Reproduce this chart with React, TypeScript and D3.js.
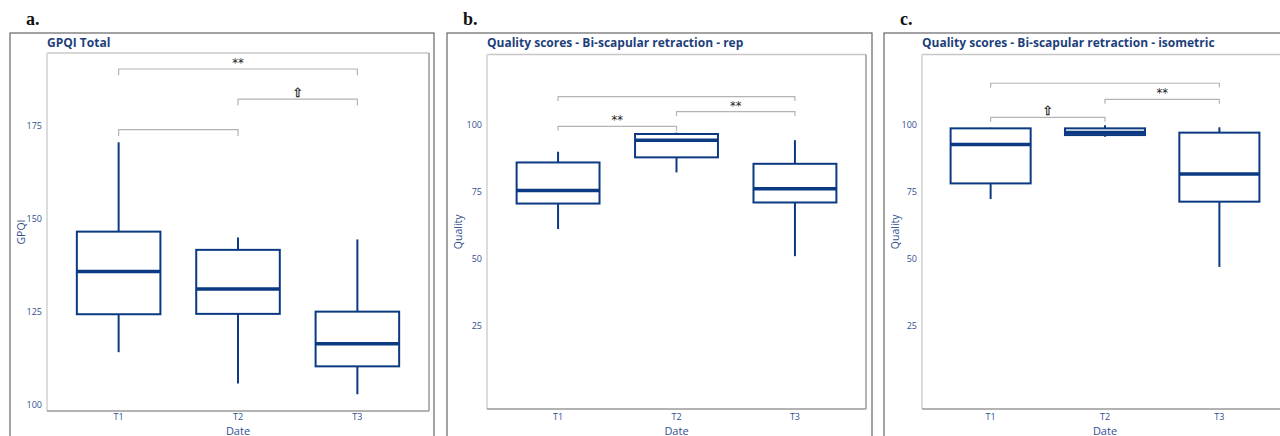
import * as d3 from "d3";

// Time points on the x axis
const dates = ["T1", "T2", "T3"];

// Box summaries per time point: [min, q1, median, q3, max]
const gpqiStats = [
  [114.2, 124.4, 135.9, 146.6, 170.6],
  [105.8, 124.5, 131.2, 141.7, 145.0],
  [102.9, 110.4, 116.5, 125.1, 144.5],
];
const repStats = [
  [61.2, 70.7, 75.6, 86.0, 90.0],
  [82.3, 87.9, 94.3, 96.6, 97.1],
  [51.1, 71.1, 76.2, 85.5, 94.3],
];
const isoStats = [
  [72.4, 78.2, 92.7, 98.7, 98.9],
  [95.6, 96.2, 97.2, 98.7, 99.9],
  [47.1, 71.4, 81.7, 97.1, 99.1],
];

// Significance brackets: [from, to, height, label]
const gpqiBrackets = [
  ["T1", "T3", 190.3, "**"],
  ["T2", "T3", 182.2, "⇧"],
  ["T1", "T2", 174.0, ""],
];
const repBrackets = [
  ["T1", "T3", 110.5, ""],
  ["T2", "T3", 104.9, "**"],
  ["T1", "T2", 99.4, "**"],
];
const isoBrackets = [
  ["T1", "T3", 115.5, ""],
  ["T2", "T3", 109.5, "**"],
  ["T1", "T2", 102.8, "⇧"],
];

const gpqiTicks = [100, 125, 150, 175];
const qualityTicks = [25, 50, 75, 100];

const navy = "#0b3a82";
const axisBlue = "#2f4f8f";
const font = "'Open Sans', 'Noto Sans', sans-serif";

const panels = [
  {
    letter: "a.", title: "GPQI Total", yTitle: "GPQI",
    frame: [10, 434], plot: { left: 47, top: 53, right: 429, bottom: 411 },
    domain: [98.4, 194.6], ticks: gpqiTicks, stats: gpqiStats, brackets: gpqiBrackets, tick: 1.7,
  },
  {
    letter: "b.", title: "Quality scores - Bi-scapular retraction - rep", yTitle: "Quality",
    frame: [447, 872], plot: { left: 487, top: 54.5, right: 866, bottom: 409 },
    domain: [-5.8, 126.2], ticks: qualityTicks, stats: repStats, brackets: repBrackets, tick: 1.6,
  },
  {
    letter: "c.", title: "Quality scores - Bi-scapular retraction - isometric", yTitle: "Quality",
    frame: [884, 1320], plot: { left: 922, top: 54.5, right: 1288, bottom: 409 },
    domain: [-5.8, 126.2], ticks: qualityTicks, stats: isoStats, brackets: isoBrackets, tick: 1.6,
  },
];

const Panel = ({ p }) => {
  const { left, top, right, bottom } = p.plot;
  const y = d3.scaleLinear().domain(p.domain).range([bottom, top]);
  const x = d3.scalePoint().domain(dates).range([left, right]).padding(0.6);
  const step = x.step();
  const boxW = step * 0.7;
  const midY = (top + bottom) / 2;

  return (
    <g>
      <text x={p.frame[0] + 16} y={25} fontFamily="'Liberation Serif', serif" fontWeight="bold" fontSize={18} fill="#111">
        {p.letter}
      </text>
      <rect x={p.frame[0]} y={33} width={p.frame[1] - p.frame[0]} height={420} fill="none" stroke="#666" strokeWidth={1.2} />
      <text x={left} y={46.5} fontFamily={font} fontWeight="bold" fontSize={12} fill="#1d3f7c">
        {p.title}
      </text>
      {/* panel border */}
      <line x1={left} x2={right} y1={top} y2={top} stroke="#c8c8c8" strokeWidth={1.5} />
      <line x1={right} x2={right} y1={top} y2={bottom} stroke="#9a9a9a" strokeWidth={1.5} />
      <line x1={left} x2={left} y1={top} y2={bottom} stroke="#dcdcdc" strokeWidth={2} />
      <line x1={left} x2={right} y1={bottom} y2={bottom} stroke="#9a9a9a" strokeWidth={1.5} />

      {/* y ticks */}
      {p.ticks.map((t) => (
        <text key={t} x={left - 5} y={y(t)} dy="0.35em" textAnchor="end" fontFamily={font} fontSize={9} fill={axisBlue}>
          {t}
        </text>
      ))}
      <text transform={`translate(${p.frame[0] + 11},${midY}) rotate(-90)`} textAnchor="middle" dy="0.35em"
        fontFamily={font} fontSize={10.5} fill={axisBlue}>
        {p.yTitle}
      </text>

      {/* x ticks */}
      {dates.map((d) => (
        <text key={d} x={x(d)} y={419.5} textAnchor="middle" fontFamily={font} fontSize={9} fill={axisBlue}>
          {d}
        </text>
      ))}
      <text x={(left + right) / 2} y={434.5} textAnchor="middle" fontFamily={font} fontSize={11} fill={axisBlue}>
        Date
      </text>

      {/* boxes */}
      {p.stats.map((s, i) => {
        const cx = x(dates[i]);
        const [mn, q1, med, q3, mx] = s;
        return (
          <g key={i} stroke={navy} fill="none">
            <line x1={cx} x2={cx} y1={y(mx)} y2={y(q3)} strokeWidth={2} />
            <line x1={cx} x2={cx} y1={y(q1)} y2={y(mn)} strokeWidth={2} />
            <rect x={cx - boxW / 2} y={y(q3)} width={boxW} height={y(q1) - y(q3)} strokeWidth={2} fill="#fff" />
            <line x1={cx - boxW / 2} x2={cx + boxW / 2} y1={y(med)} y2={y(med)} strokeWidth={3.5} />
          </g>
        );
      })}

      {/* significance brackets */}
      {p.brackets.map(([a, b, h, lab], i) => {
        const x1 = x(a);
        const x2 = x(b);
        const yy = y(h);
        const yt = y(h - p.tick);
        return (
          <g key={i}>
            <path d={`M${x1},${yt}V${yy}H${x2}V${yt}`} fill="none" stroke="#b4b4b4" strokeWidth={1.2} />
            {lab && (
              <text x={(x1 + x2) / 2} y={yy - 2} textAnchor="middle" fontFamily="'DejaVu Sans'"
                fontSize={lab === "**" ? 11.5 : 13} fill="#222" stroke={lab === "**" ? "none" : "#222"}
                strokeWidth={0.3}>
                {lab}
              </text>
            )}
          </g>
        );
      })}
    </g>
  );
};

export default function App() {
  return (
    <svg width={1280} height={436} style={{ position: "absolute", left: 0, top: 0, background: "#fff" }}>
      <rect width={1280} height={436} fill="#fff" />
      {panels.map((p) => (
        <Panel key={p.letter} p={p} />
      ))}
    </svg>
  );
}
